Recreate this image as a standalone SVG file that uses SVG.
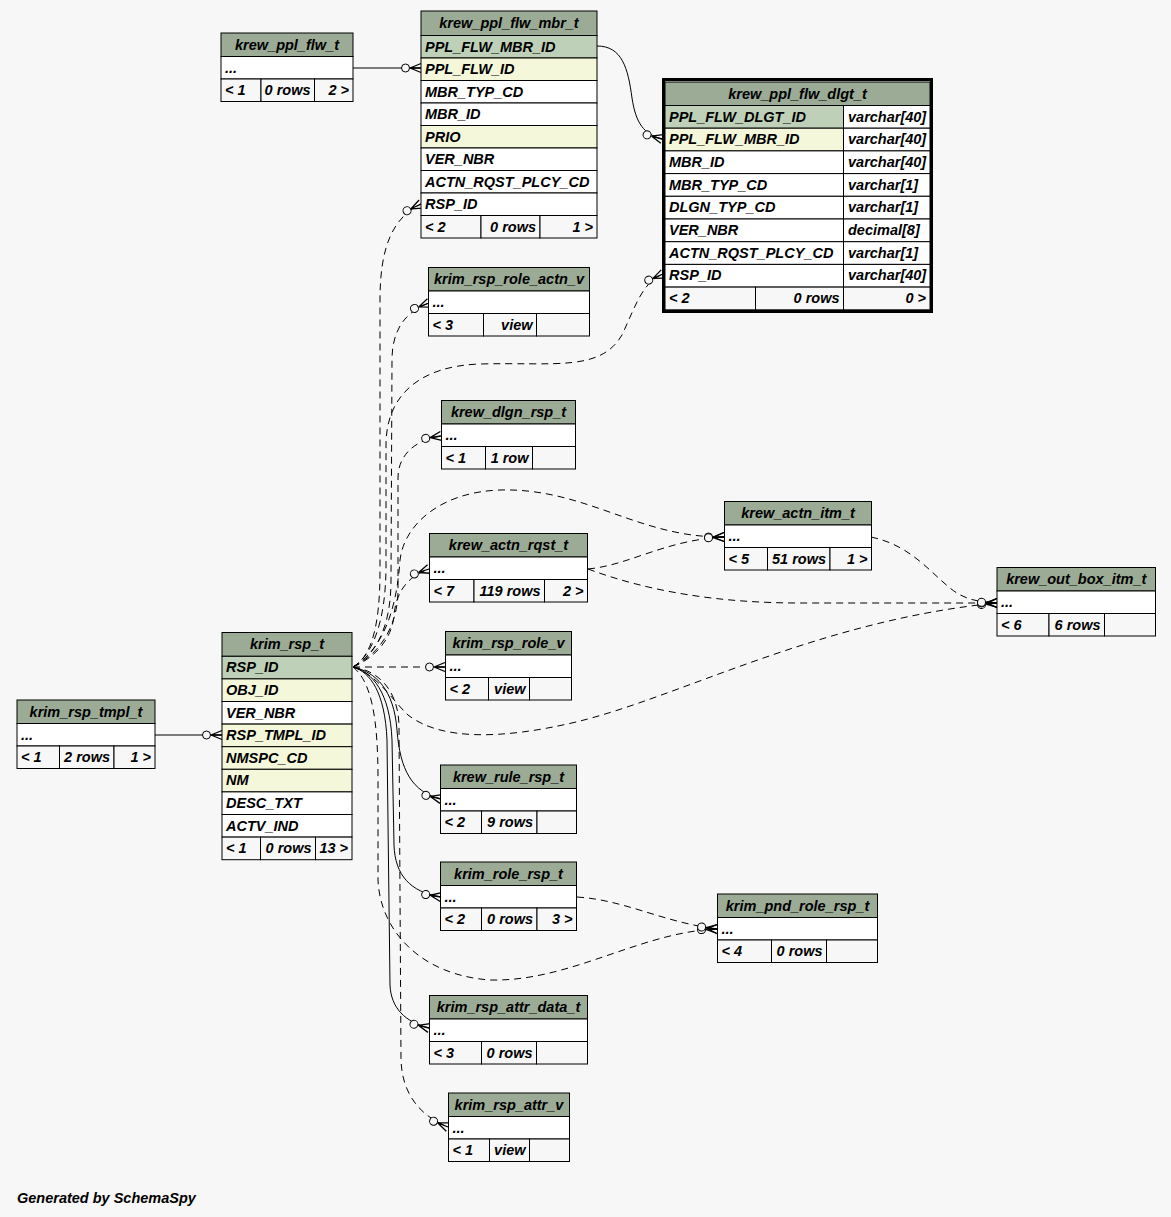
<svg xmlns="http://www.w3.org/2000/svg" width="1171" height="1217" viewBox="0 0 1171 1217">
<style>
rect{stroke:#000;stroke-width:1}
.h{fill:#9bab96}.pk{fill:#bed1b8}.fk{fill:#f4f7da}.w{fill:#ffffff}.f{fill:#f7f7f7}
text{font-family:"Liberation Sans",Arial,sans-serif;font-weight:bold;font-style:italic;font-size:14.5px;fill:#000}
.c{text-anchor:middle}.r{text-anchor:end}
.e{fill:none;stroke:#000;stroke-width:1}
.d{stroke-dasharray:7,5}
</style>
<defs>
<marker id="cf" markerUnits="userSpaceOnUse" orient="auto" refX="0" refY="0" markerWidth="30" markerHeight="20" viewBox="-25 -10 30 20" overflow="visible">
<circle cx="-15.5" cy="0" r="4" fill="#f7f7f7" stroke="#000" stroke-width="1"/>
<path d="M-11,0 L0,-4.5 M-11,0 L0,0 M-11,0 L0,4.5" stroke="#000" stroke-width="1.3" fill="none"/>
</marker>
</defs>
<rect x="0" y="0" width="1171" height="1217" fill="#f7f7f7" style="stroke:none"/>

<g id="connectors">
<path class="e" marker-end="url(#cf)" d="M353,68 L421,68"/>
<path class="e" marker-end="url(#cf)" d="M597,46 C622,46 628,68 632,98 C636,124 644,134 662,139"/>
<path class="e d" marker-end="url(#cf)" d="M353,667 C372,656 380,625 380,570 L380,300 C380,248 392,218 421,204"/>
<path class="e d" marker-end="url(#cf)" d="M353,667 C371,656 386,625 386,565 L386,445 C386,395 420,366 480,364 C555,362 600,372 622,335 C636,305 642,283 663,274"/>
<path class="e d" marker-end="url(#cf)" d="M353,667 C374,656 391,630 391,580 L392,360 C392,330 405,312 429,303"/>
<path class="e d" marker-end="url(#cf)" d="M353,667 C376,656 398,630 398,590 L398,478 C398,455 415,440 441,436"/>
<path class="e d" marker-end="url(#cf)" d="M353,667 C374,658 392,640 394,615 C396,592 408,576 429,569"/>
<path class="e d" marker-end="url(#cf)" d="M353,667 L445,667"/>
<path class="e d" marker-end="url(#cf)" d="M353,667 C378,652 396,620 400,560 C404,525 440,492 500,490 C570,488 620,522 680,533 C695,536 710,537 724,537"/>
<path class="e d" marker-end="url(#cf)" d="M353,667 C378,675 392,700 408,715 C440,740 500,740 576,722 C680,697 820,620 997,603"/>
<path class="e" marker-end="url(#cf)" d="M353,667 C376,672 394,690 397,730 C400,770 412,792 441,799"/>
<path class="e" marker-end="url(#cf)" d="M353,667 C372,672 390,692 392,740 L394,845 C395,875 410,892 441,897"/>
<path class="e" marker-end="url(#cf)" d="M353,667 C370,672 385,692 387,740 L390,985 C391,1008 405,1022 429,1028"/>
<path class="e d" marker-end="url(#cf)" d="M353,667 C376,670 398,688 399,725 L401,1060 C402,1092 418,1115 448,1127"/>
<path class="e d" marker-end="url(#cf)" d="M353,667 C372,682 378,720 378,780 L378,880 C380,930 420,975 490,980 C570,982 640,932 717,929"/>
<path class="e d" marker-end="url(#cf)" d="M577,897 C625,900 662,922 717,929"/>
<path class="e d" marker-end="url(#cf)" d="M588,569 C630,565 665,540 724,537"/>
<path class="e d" marker-end="url(#cf)" d="M588,569 C650,592 720,603 800,603 L997,603"/>
<path class="e d" marker-end="url(#cf)" d="M871,537 C910,545 930,572 950,588 C962,598 975,602 997,603"/>
<path class="e" marker-end="url(#cf)" d="M155,735 L222,735"/>
</g>

<g id="krew_ppl_flw_t">
<rect class="h" x="221" y="33" width="132" height="23.5"/>
<rect class="w" x="221" y="56.5" width="132" height="22.5"/>
<rect class="f" x="221" y="79" width="40" height="22.5"/>
<rect class="f" x="261" y="79" width="53.5" height="22.5"/>
<rect class="f" x="314.5" y="79" width="38.5" height="22.5"/>
<text class="c" x="287" y="49.5">krew_ppl_flw_t</text>
<text x="225" y="72.5">...</text>
<text x="225" y="95">&lt; 1</text>
<text class="r" x="310.5" y="95">0 rows</text>
<text class="r" x="349" y="95">2 &gt;</text>
</g>

<g id="krew_ppl_flw_mbr_t">
<rect class="h" x="421" y="11" width="176" height="24.5"/>
<rect class="pk" x="421" y="35.5" width="176" height="22.5"/>
<rect class="fk" x="421" y="58" width="176" height="22.5"/>
<rect class="w" x="421" y="80.5" width="176" height="22.5"/>
<rect class="w" x="421" y="103" width="176" height="22.5"/>
<rect class="fk" x="421" y="125.5" width="176" height="22.5"/>
<rect class="w" x="421" y="148" width="176" height="22.5"/>
<rect class="w" x="421" y="170.5" width="176" height="22.5"/>
<rect class="w" x="421" y="193" width="176" height="22.5"/>
<rect class="f" x="421" y="215.5" width="60" height="22.5"/>
<rect class="f" x="481" y="215.5" width="59" height="22.5"/>
<rect class="f" x="540" y="215.5" width="57" height="22.5"/>
<text class="c" x="509" y="27.5">krew_ppl_flw_mbr_t</text>
<text x="425" y="51.5">PPL_FLW_MBR_ID</text>
<text x="425" y="74">PPL_FLW_ID</text>
<text x="425" y="96.5">MBR_TYP_CD</text>
<text x="425" y="119">MBR_ID</text>
<text x="425" y="141.5">PRIO</text>
<text x="425" y="164">VER_NBR</text>
<text x="425" y="186.5">ACTN_RQST_PLCY_CD</text>
<text x="425" y="209">RSP_ID</text>
<text x="425" y="231.5">&lt; 2</text>
<text class="r" x="536" y="231.5">0 rows</text>
<text class="r" x="593" y="231.5">1 &gt;</text>
</g>

<g id="krew_ppl_flw_dlgt_t">
<rect x="663.5" y="79.5" width="268" height="232" fill="none" style="stroke-width:3"/>
<rect class="h" x="665" y="82" width="265" height="23.5"/>
<rect class="pk" x="665" y="105.5" width="178.5" height="22.7"/>
<rect class="w" x="843.5" y="105.5" width="86.5" height="22.7"/>
<rect class="fk" x="665" y="128.2" width="178.5" height="22.7"/>
<rect class="w" x="843.5" y="128.2" width="86.5" height="22.7"/>
<rect class="w" x="665" y="150.9" width="178.5" height="22.7"/>
<rect class="w" x="843.5" y="150.9" width="86.5" height="22.7"/>
<rect class="w" x="665" y="173.6" width="178.5" height="22.7"/>
<rect class="w" x="843.5" y="173.6" width="86.5" height="22.7"/>
<rect class="w" x="665" y="196.3" width="178.5" height="22.7"/>
<rect class="w" x="843.5" y="196.3" width="86.5" height="22.7"/>
<rect class="w" x="665" y="219" width="178.5" height="22.7"/>
<rect class="w" x="843.5" y="219" width="86.5" height="22.7"/>
<rect class="w" x="665" y="241.7" width="178.5" height="22.7"/>
<rect class="w" x="843.5" y="241.7" width="86.5" height="22.7"/>
<rect class="w" x="665" y="264.4" width="178.5" height="22.7"/>
<rect class="w" x="843.5" y="264.4" width="86.5" height="22.7"/>
<rect class="f" x="665" y="287.1" width="90.5" height="22.7"/>
<rect class="f" x="755.5" y="287.1" width="88" height="22.7"/>
<rect class="f" x="843.5" y="287.1" width="86.5" height="22.7"/>
<text class="c" x="797.5" y="98.5">krew_ppl_flw_dlgt_t</text>
<text x="669" y="121.5">PPL_FLW_DLGT_ID</text>
<text x="848" y="121.5">varchar[40]</text>
<text x="669" y="144.2">PPL_FLW_MBR_ID</text>
<text x="848" y="144.2">varchar[40]</text>
<text x="669" y="166.9">MBR_ID</text>
<text x="848" y="166.9">varchar[40]</text>
<text x="669" y="189.6">MBR_TYP_CD</text>
<text x="848" y="189.6">varchar[1]</text>
<text x="669" y="212.3">DLGN_TYP_CD</text>
<text x="848" y="212.3">varchar[1]</text>
<text x="669" y="235">VER_NBR</text>
<text x="848" y="235">decimal[8]</text>
<text x="669" y="257.7">ACTN_RQST_PLCY_CD</text>
<text x="848" y="257.7">varchar[1]</text>
<text x="669" y="280.4">RSP_ID</text>
<text x="848" y="280.4">varchar[40]</text>
<text x="669" y="303.1">&lt; 2</text>
<text class="r" x="839.5" y="303.1">0 rows</text>
<text class="r" x="926" y="303.1">0 &gt;</text>
</g>

<g id="krim_rsp_t">
<rect class="h" x="222" y="632.5" width="130" height="23.8"/>
<rect class="pk" x="222" y="656.3" width="130" height="22.6"/>
<rect class="fk" x="222" y="678.9" width="130" height="22.6"/>
<rect class="w" x="222" y="701.5" width="130" height="22.6"/>
<rect class="fk" x="222" y="724.1" width="130" height="22.6"/>
<rect class="fk" x="222" y="746.7" width="130" height="22.6"/>
<rect class="fk" x="222" y="769.3" width="130" height="22.6"/>
<rect class="w" x="222" y="791.9" width="130" height="22.6"/>
<rect class="w" x="222" y="814.5" width="130" height="22.6"/>
<rect class="f" x="222" y="837.1" width="38.5" height="22.6"/>
<rect class="f" x="260.5" y="837.1" width="55" height="22.6"/>
<rect class="f" x="315.5" y="837.1" width="36.5" height="22.6"/>
<text class="c" x="287" y="649">krim_rsp_t</text>
<text x="226" y="672.3">RSP_ID</text>
<text x="226" y="694.9">OBJ_ID</text>
<text x="226" y="717.5">VER_NBR</text>
<text x="226" y="740.1">RSP_TMPL_ID</text>
<text x="226" y="762.7">NMSPC_CD</text>
<text x="226" y="785.3">NM</text>
<text x="226" y="807.9">DESC_TXT</text>
<text x="226" y="830.5">ACTV_IND</text>
<text x="226" y="853.1">&lt; 1</text>
<text class="r" x="311.5" y="853.1">0 rows</text>
<text class="r" x="348" y="853.1">13 &gt;</text>
</g>

<g id="krim_rsp_tmpl_t">
<rect class="h" x="17" y="700" width="138" height="23.5"/>
<rect class="w" x="17" y="723.5" width="138" height="22.5"/>
<rect class="f" x="17" y="746" width="42.5" height="22.5"/>
<rect class="f" x="59.5" y="746" width="54.5" height="22.5"/>
<rect class="f" x="114" y="746" width="41" height="22.5"/>
<text class="c" x="86" y="716.5">krim_rsp_tmpl_t</text>
<text x="21" y="739.5">...</text>
<text x="21" y="762">&lt; 1</text>
<text class="r" x="110" y="762">2 rows</text>
<text class="r" x="151" y="762">1 &gt;</text>
</g>

<g id="krim_rsp_role_actn_v">
<rect class="h" x="428.5" y="267.5" width="161" height="23.5"/>
<rect class="w" x="428.5" y="291" width="161" height="22.5"/>
<rect class="f" x="428.5" y="313.5" width="55" height="22.5"/>
<rect class="f" x="483.5" y="313.5" width="53" height="22.5"/>
<rect class="f" x="536.5" y="313.5" width="53" height="22.5"/>
<text class="c" x="509" y="284">krim_rsp_role_actn_v</text>
<text x="432.5" y="307">...</text>
<text x="432.5" y="329.5">&lt; 3</text>
<text class="r" x="532.5" y="329.5">view</text>
</g>

<g id="krew_dlgn_rsp_t">
<rect class="h" x="441.5" y="400.5" width="134" height="23.5"/>
<rect class="w" x="441.5" y="424" width="134" height="22.5"/>
<rect class="f" x="441.5" y="446.5" width="44" height="22.5"/>
<rect class="f" x="485.5" y="446.5" width="47" height="22.5"/>
<rect class="f" x="532.5" y="446.5" width="43" height="22.5"/>
<text class="c" x="508.5" y="417">krew_dlgn_rsp_t</text>
<text x="445.5" y="440">...</text>
<text x="445.5" y="462.5">&lt; 1</text>
<text class="r" x="528.5" y="462.5">1 row</text>
</g>

<g id="krew_actn_rqst_t">
<rect class="h" x="429.5" y="533.5" width="158" height="23.5"/>
<rect class="w" x="429.5" y="557" width="158" height="22.5"/>
<rect class="f" x="429.5" y="579.5" width="44.5" height="22.5"/>
<rect class="f" x="474" y="579.5" width="70.5" height="22.5"/>
<rect class="f" x="544.5" y="579.5" width="43" height="22.5"/>
<text class="c" x="508.5" y="550">krew_actn_rqst_t</text>
<text x="433.5" y="573">...</text>
<text x="433.5" y="595.5">&lt; 7</text>
<text class="r" x="540.5" y="595.5">119 rows</text>
<text class="r" x="583.5" y="595.5">2 &gt;</text>
</g>

<g id="krim_rsp_role_v">
<rect class="h" x="445.5" y="631.5" width="126" height="23.5"/>
<rect class="w" x="445.5" y="655" width="126" height="22.5"/>
<rect class="f" x="445.5" y="677.5" width="43" height="22.5"/>
<rect class="f" x="488.5" y="677.5" width="41" height="22.5"/>
<rect class="f" x="529.5" y="677.5" width="42" height="22.5"/>
<text class="c" x="508.5" y="648">krim_rsp_role_v</text>
<text x="449.5" y="671">...</text>
<text x="449.5" y="693.5">&lt; 2</text>
<text class="r" x="525.5" y="693.5">view</text>
</g>

<g id="krew_actn_itm_t">
<rect class="h" x="724.5" y="501.5" width="147" height="23.5"/>
<rect class="w" x="724.5" y="525" width="147" height="22.5"/>
<rect class="f" x="724.5" y="547.5" width="43" height="22.5"/>
<rect class="f" x="767.5" y="547.5" width="62.5" height="22.5"/>
<rect class="f" x="830" y="547.5" width="41.5" height="22.5"/>
<text class="c" x="798" y="518">krew_actn_itm_t</text>
<text x="728.5" y="541">...</text>
<text x="728.5" y="563.5">&lt; 5</text>
<text class="r" x="826" y="563.5">51 rows</text>
<text class="r" x="867.5" y="563.5">1 &gt;</text>
</g>

<g id="krew_out_box_itm_t">
<rect class="h" x="997" y="567.5" width="158.5" height="23.5"/>
<rect class="w" x="997" y="591" width="158.5" height="22.5"/>
<rect class="f" x="997" y="613.5" width="52" height="22.5"/>
<rect class="f" x="1049" y="613.5" width="55.5" height="22.5"/>
<rect class="f" x="1104.5" y="613.5" width="51" height="22.5"/>
<text class="c" x="1076.25" y="584">krew_out_box_itm_t</text>
<text x="1001" y="607">...</text>
<text x="1001" y="629.5">&lt; 6</text>
<text class="r" x="1100.5" y="629.5">6 rows</text>
</g>

<g id="krew_rule_rsp_t">
<rect class="h" x="440.5" y="765" width="136" height="23.5"/>
<rect class="w" x="440.5" y="788.5" width="136" height="22.5"/>
<rect class="f" x="440.5" y="811" width="41" height="22.5"/>
<rect class="f" x="481.5" y="811" width="55.5" height="22.5"/>
<rect class="f" x="537" y="811" width="39.5" height="22.5"/>
<text class="c" x="508.5" y="781.5">krew_rule_rsp_t</text>
<text x="444.5" y="804.5">...</text>
<text x="444.5" y="827">&lt; 2</text>
<text class="r" x="533" y="827">9 rows</text>
</g>

<g id="krim_role_rsp_t">
<rect class="h" x="440.5" y="862" width="136" height="23.5"/>
<rect class="w" x="440.5" y="885.5" width="136" height="22.5"/>
<rect class="f" x="440.5" y="908" width="41" height="22.5"/>
<rect class="f" x="481.5" y="908" width="55.5" height="22.5"/>
<rect class="f" x="537" y="908" width="39.5" height="22.5"/>
<text class="c" x="508.5" y="878.5">krim_role_rsp_t</text>
<text x="444.5" y="901.5">...</text>
<text x="444.5" y="924">&lt; 2</text>
<text class="r" x="533" y="924">0 rows</text>
<text class="r" x="572.5" y="924">3 &gt;</text>
</g>

<g id="krim_pnd_role_rsp_t">
<rect class="h" x="717.5" y="894" width="160" height="23.5"/>
<rect class="w" x="717.5" y="917.5" width="160" height="22.5"/>
<rect class="f" x="717.5" y="940" width="54" height="22.5"/>
<rect class="f" x="771.5" y="940" width="55" height="22.5"/>
<rect class="f" x="826.5" y="940" width="51" height="22.5"/>
<text class="c" x="797.5" y="910.5">krim_pnd_role_rsp_t</text>
<text x="721.5" y="933.5">...</text>
<text x="721.5" y="956">&lt; 4</text>
<text class="r" x="822.5" y="956">0 rows</text>
</g>

<g id="krim_rsp_attr_data_t">
<rect class="h" x="429.5" y="995.5" width="158" height="23.5"/>
<rect class="w" x="429.5" y="1019" width="158" height="22.5"/>
<rect class="f" x="429.5" y="1041.5" width="52" height="22.5"/>
<rect class="f" x="481.5" y="1041.5" width="55" height="22.5"/>
<rect class="f" x="536.5" y="1041.5" width="51" height="22.5"/>
<text class="c" x="508.5" y="1012">krim_rsp_attr_data_t</text>
<text x="433.5" y="1035">...</text>
<text x="433.5" y="1057.5">&lt; 3</text>
<text class="r" x="532.5" y="1057.5">0 rows</text>
</g>

<g id="krim_rsp_attr_v">
<rect class="h" x="448.5" y="1093" width="121" height="23.5"/>
<rect class="w" x="448.5" y="1116.5" width="121" height="22.5"/>
<rect class="f" x="448.5" y="1139" width="41" height="22.5"/>
<rect class="f" x="489.5" y="1139" width="40" height="22.5"/>
<rect class="f" x="529.5" y="1139" width="40" height="22.5"/>
<text class="c" x="509" y="1109.5">krim_rsp_attr_v</text>
<text x="452.5" y="1132.5">...</text>
<text x="452.5" y="1155">&lt; 1</text>
<text class="r" x="525.5" y="1155">view</text>
</g>

<text x="17" y="1203">Generated by SchemaSpy</text>
</svg>
